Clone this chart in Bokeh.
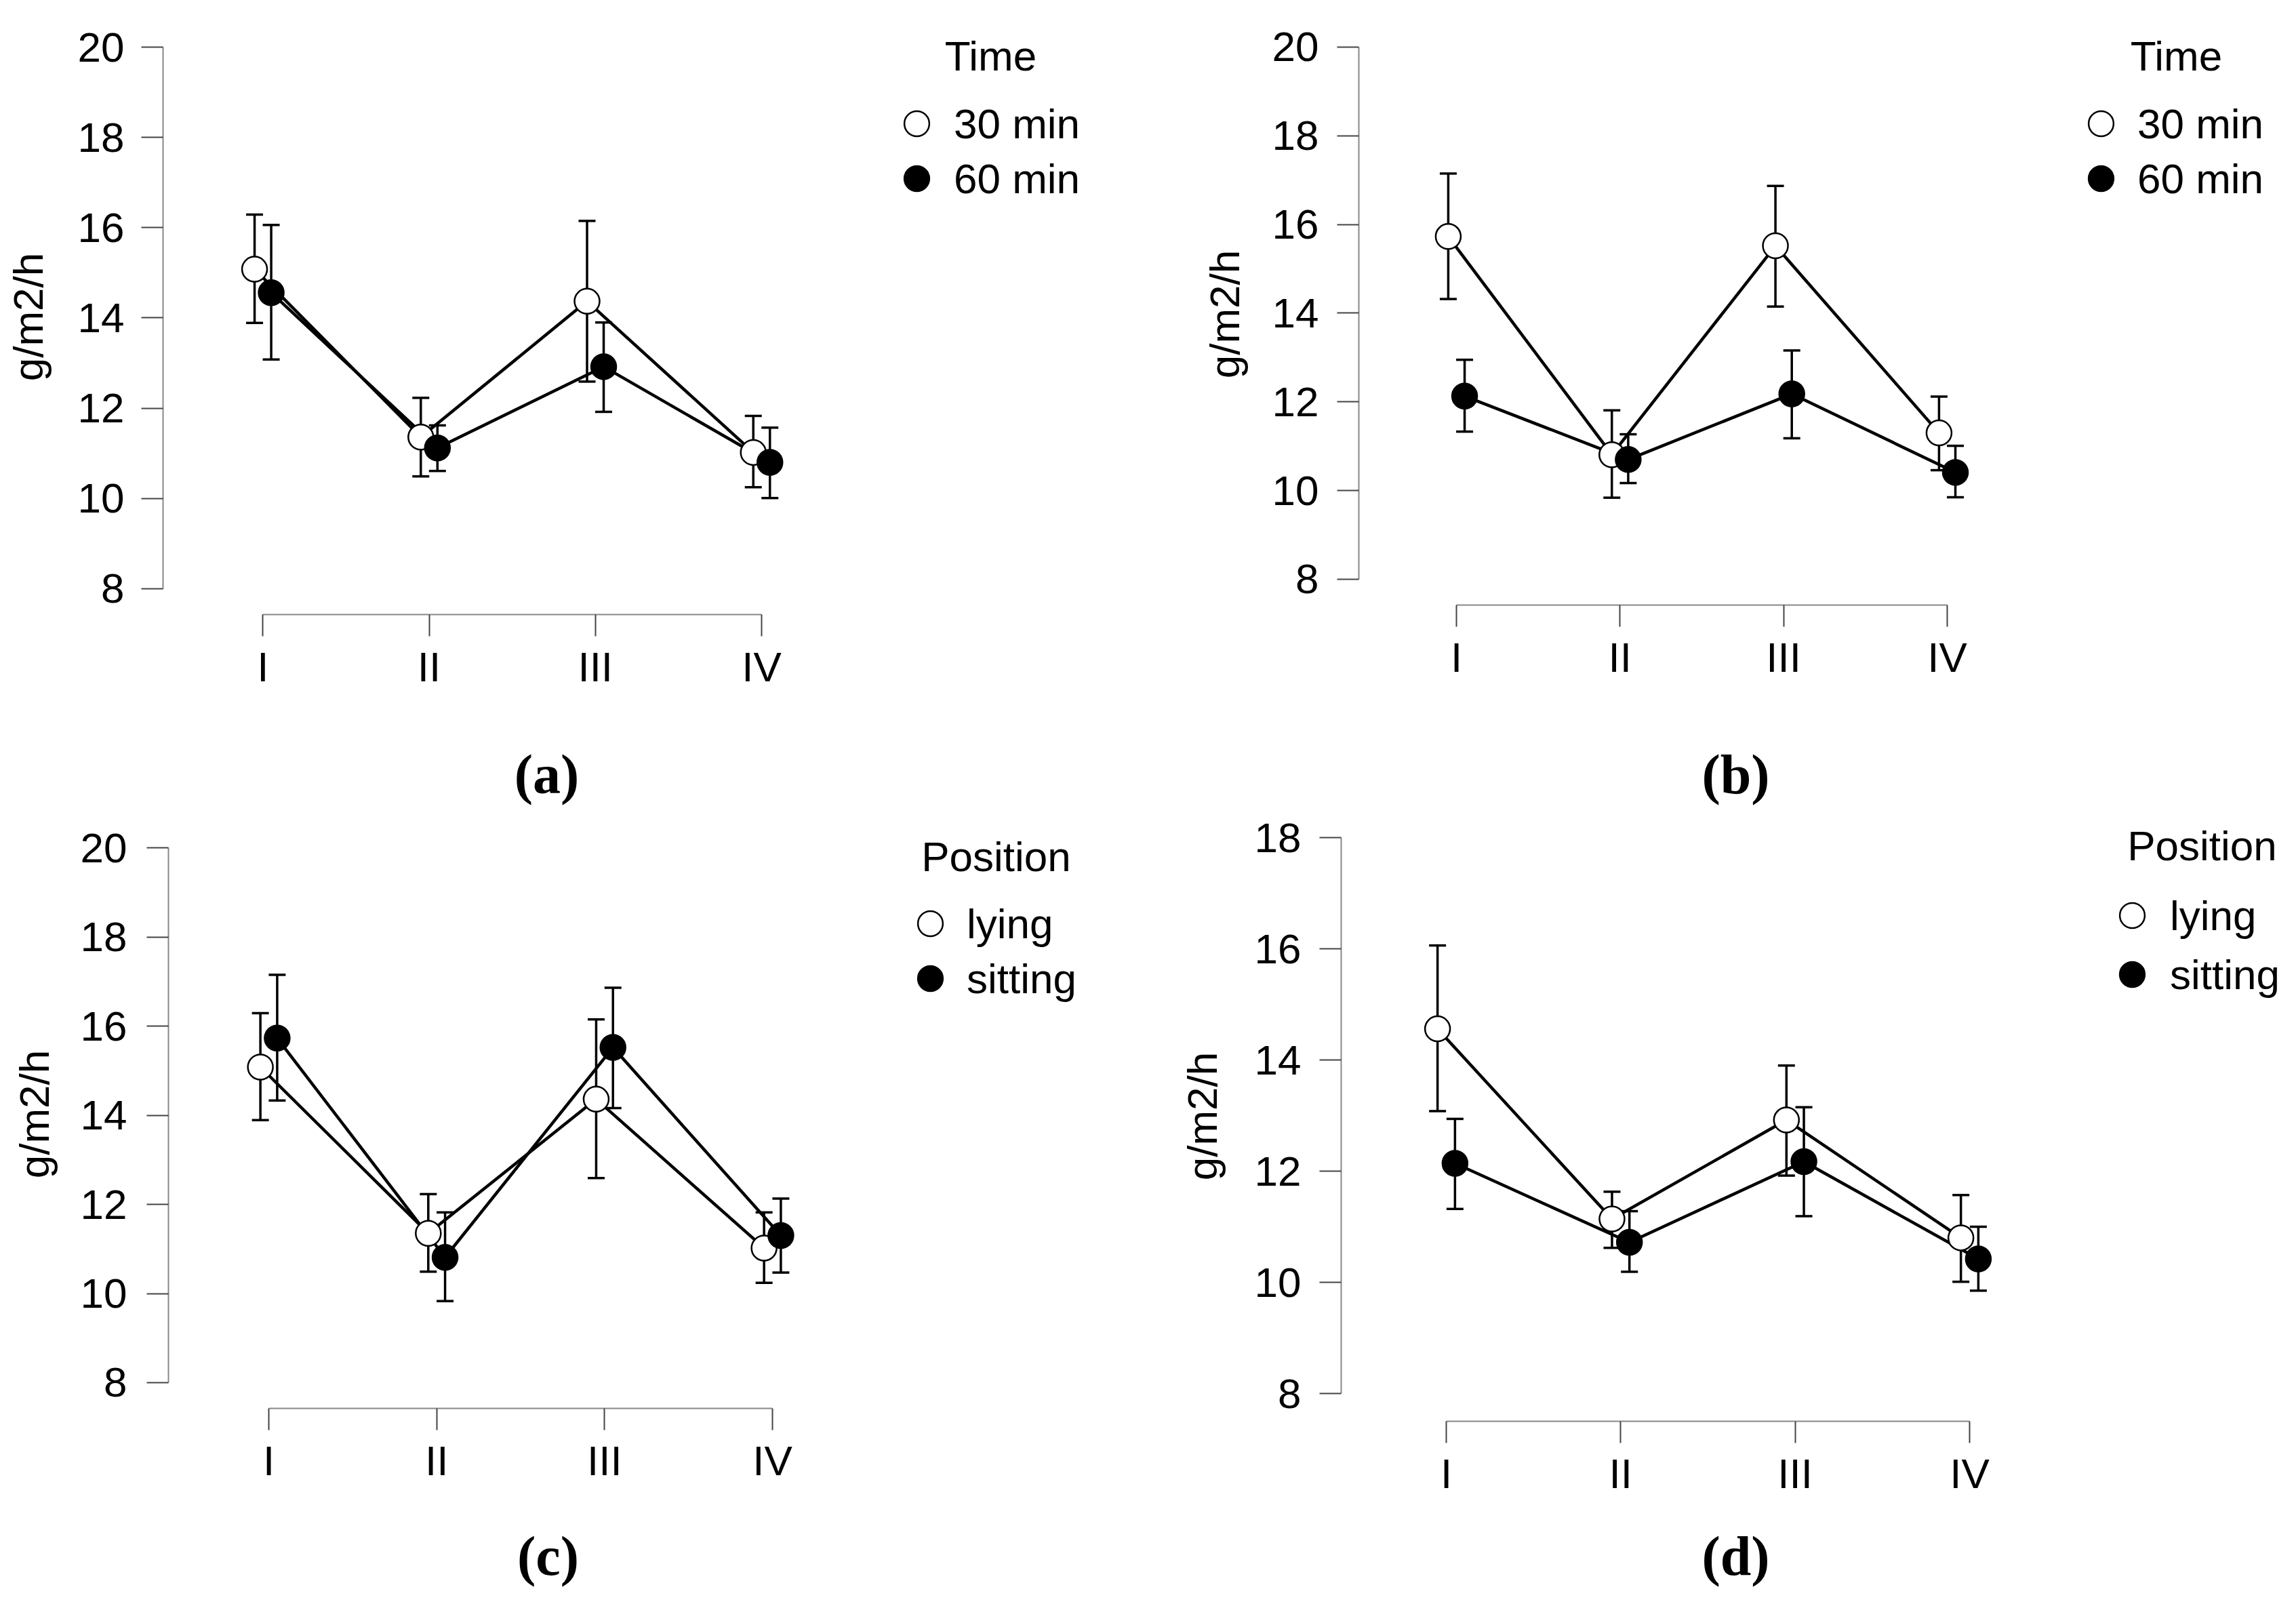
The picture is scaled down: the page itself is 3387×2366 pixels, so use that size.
from bokeh.plotting import figure
from bokeh.layouts import column, row
from bokeh.models import (ColumnDataSource, Whisker, TeeHead, FixedTicker, Legend,
                          LegendItem, Label, Range1d)
from bokeh.embed import file_html
from bokeh.resources import INLINE

# ---------------- data ----------------
groups = ["I", "II", "III", "IV"]
group_pos = [1, 2, 3, 4]

# (a) Time
a_30_mean = [15.08, 11.36, 14.37, 11.02]
a_30_upper = [16.29, 12.23, 16.15, 11.83]
a_30_lower = [13.89, 10.49, 12.59, 10.25]
a_60_mean = [14.56, 11.12, 12.92, 10.80]
a_60_upper = [16.06, 11.62, 13.90, 11.57]
a_60_lower = [13.08, 10.61, 11.92, 10.01]

# (b) Time
b_30_mean = [15.73, 10.81, 15.52, 11.30]
b_30_upper = [17.15, 11.81, 16.87, 12.12]
b_30_lower = [14.32, 9.84, 14.15, 10.46]
b_60_mean = [12.13, 10.70, 12.18, 10.41]
b_60_upper = [12.95, 11.27, 13.16, 11.01]
b_60_lower = [11.33, 10.17, 11.18, 9.85]

# (c) Position
c_lying_mean = [15.08, 11.35, 14.36, 11.02]
c_lying_upper = [16.29, 12.23, 16.15, 11.82]
c_lying_lower = [13.89, 10.49, 12.59, 10.24]
c_sitting_mean = [15.73, 10.81, 15.52, 11.30]
c_sitting_upper = [17.15, 11.82, 16.86, 12.13]
c_sitting_lower = [14.33, 9.83, 14.16, 10.47]

# (d) Position
d_lying_mean = [14.56, 11.14, 12.92, 10.80]
d_lying_upper = [16.06, 11.63, 13.90, 11.57]
d_lying_lower = [13.08, 10.62, 11.92, 10.01]
d_sitting_mean = [12.14, 10.72, 12.17, 10.42]
d_sitting_upper = [12.94, 11.28, 13.15, 11.00]
d_sitting_lower = [11.32, 10.19, 11.19, 9.85]

y_ticks_20 = [8, 10, 12, 14, 16, 18, 20]
y_ticks_18 = [8, 10, 12, 14, 16, 18]
time_labels = ["30 min", "60 min"]
position_labels = ["lying", "sitting"]
y_title = "g/m2/h"
tags = ["(a)", "(b)", "(c)", "(d)"]

FONT = "Liberation Sans"
FS = "62px"
DODGE = 0.05


def make_panel(series, legend_labels, legend_title, y_ticks, xr, yr, borders,
               width, height, legend_x, legend_ys, leg_stand, title_xy,
               tick_standoff, label_standoff):
    p = figure(width=width, height=height, x_range=Range1d(*xr), y_range=Range1d(*yr),
               output_backend="svg", toolbar_location=None,
               min_border_left=borders[0], min_border_right=0,
               min_border_top=borders[1], min_border_bottom=borders[2])
    p.grid.visible = False
    p.outline_line_color = None
    p.background_fill_color = "white"
    p.border_fill_color = "white"

    xa = p.xaxis[0]
    ya = p.yaxis[0]
    for ax in (xa, ya):
        ax.axis_line_color = "#888888"
        ax.axis_line_width = 2
        ax.major_tick_line_color = "#444444"
        ax.major_tick_line_width = 2
        ax.major_tick_out = 32
        ax.major_tick_in = 0
        ax.minor_tick_line_color = None
        ax.major_label_text_font = FONT
        ax.major_label_text_font_size = FS
        ax.major_label_text_color = "black"

    ya.bounds = (y_ticks[0], y_ticks[-1])
    ya.ticker = FixedTicker(ticks=y_ticks)
    ya.major_label_standoff = tick_standoff
    ya.axis_label = y_title
    ya.axis_label_text_font = FONT
    ya.axis_label_text_font_size = FS
    ya.axis_label_text_font_style = "normal"
    ya.axis_label_text_color = "black"
    ya.axis_label_standoff = label_standoff

    xa.bounds = (group_pos[0], group_pos[-1])
    xa.ticker = FixedTicker(ticks=group_pos)
    xa.major_label_overrides = {g: lab for g, lab in zip(group_pos, groups)}
    xa.major_label_standoff = 10

    sources = []
    for k, (mean, up, lo) in enumerate(series):
        off = -DODGE if k == 0 else DODGE
        xs = [g + off for g in group_pos]
        src = ColumnDataSource(dict(x=xs, y=mean, upper=up, lower=lo))
        sources.append(src)
        w = Whisker(source=src, base="x", upper="upper", lower="lower",
                    dimension="height", level="underlay",
                    line_color="black", line_width=3.5,
                    upper_head=TeeHead(size=25, line_width=3.5, line_color="black"),
                    lower_head=TeeHead(size=25, line_width=3.5, line_color="black"))
        p.add_layout(w)

    for src in sources:
        p.line("x", "y", source=src, line_width=4.5, line_color="black")

    fills = ["white", "black"]
    scat = []
    for src, fc in zip(sources, fills):
        s = p.scatter("x", "y", source=src, size=37, marker="circle",
                      fill_color=fc, line_color="black", line_width=2.5)
        scat.append(s)

    for lab, rend, ly in zip(legend_labels, scat, legend_ys):
        legend = Legend(items=[LegendItem(label=lab, renderers=[rend])],
                        location=(legend_x, ly), orientation="vertical",
                        padding=0, margin=0, spacing=0,
                        glyph_width=92, glyph_height=92, label_height=92,
                        label_standoff=leg_stand,
                        label_text_font=FONT, label_text_font_size=FS,
                        label_text_color="black",
                        border_line_color=None, background_fill_alpha=0)
        p.add_layout(legend)

    p.add_layout(Label(x=title_xy[0], y=title_xy[1], x_units="screen", y_units="screen",
                       text=legend_title, text_align="center", text_baseline="middle",
                       text_font=FONT, text_font_size=FS, text_color="black"))
    return p


def make_tag(tag, width, height, tx, ty):
    t = figure(width=width, height=height, x_range=Range1d(0, width),
               y_range=Range1d(0, height), output_backend="svg", toolbar_location=None,
               x_axis_type=None, y_axis_type=None,
               min_border_left=0, min_border_right=0, min_border_top=0, min_border_bottom=0)
    t.grid.visible = False
    t.outline_line_color = None
    t.background_fill_color = "white"
    t.border_fill_color = "white"
    t.add_layout(Label(x=tx, y=ty, x_units="screen", y_units="screen", text=tag,
                       text_align="center", text_baseline="middle",
                       text_font="Liberation Serif", text_font_size="82px",
                       text_font_style="bold", text_color="black"))
    return t


W = 1693
H1, T1 = 1040, 156
H2, T2 = 1024, 144

pa = make_panel([(a_30_mean, a_30_upper, a_30_lower), (a_60_mean, a_60_upper, a_60_lower)],
                time_labels, "Time", y_ticks_20,
                (0.3993, 6.3244), (7.429, 20.616), (240, 28, 134), W, H1,
                1066, (678, 597), 9, (1221, 824), 25, 36)

pb = make_panel([(b_30_mean, b_30_upper, b_30_lower), (b_60_mean, b_60_upper, b_60_lower)],
                time_labels, "Time", y_ticks_20,
                (0.4033, 6.130), (7.4191, 20.535), (311, 34, 148), W, H1,
                1049, (664, 583), 8, (1206, 810), 27, 33)

pc = make_panel([(c_lying_mean, c_lying_upper, c_lying_lower),
                 (c_sitting_mean, c_sitting_upper, c_sitting_lower)],
                position_labels, "Position", y_ticks_20,
                (0.4024, 6.2368), (7.422, 20.624), (248, 13, 143), W, H2,
                1078, (669, 588), 8, (1221, 814), 29, 31)

pd_ = make_panel([(d_lying_mean, d_lying_upper, d_lying_lower),
                  (d_sitting_mean, d_sitting_upper, d_sitting_lower)],
                 position_labels, "Position", y_ticks_18,
                 (0.3977, 5.869), (7.5, 18.476), (285, 0, 124), W, H2,
                 1121, (700, 613), 10, (1270, 849), 27, 40)

ta = make_tag(tags[0], W, T1, 806, 54)
tb = make_tag(tags[1], W, T1, 867, 54)
tc = make_tag(tags[2], W, T2, 808, 69)
td = make_tag(tags[3], W, T2, 867, 69)

layout = column(
    row(column(column(pa), column(ta)), column(column(pb), column(tb))),
    row(column(column(pc), column(tc)), column(column(pd_), column(td))),
)

with open("out.html", "w") as f:
    f.write(file_html(layout, INLINE))
